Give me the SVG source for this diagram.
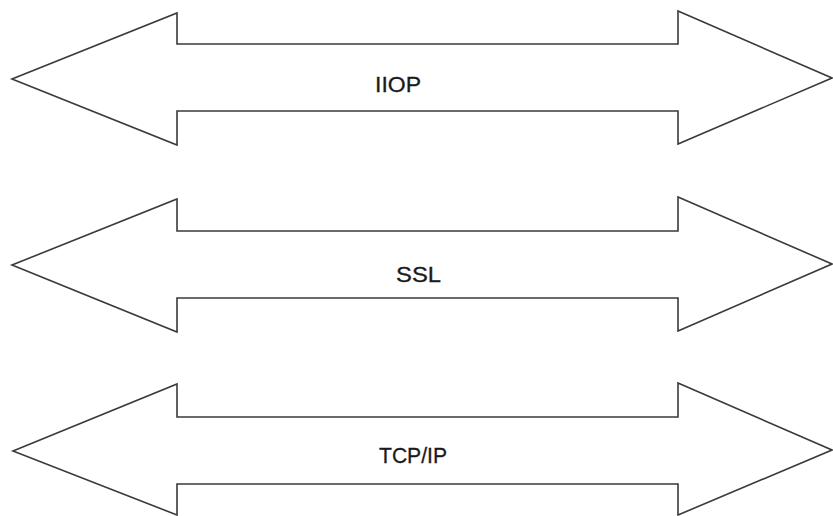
<svg xmlns="http://www.w3.org/2000/svg" width="833" height="516" viewBox="0 0 833 516">
<style>
.arrow{fill:#fff;stroke:#3a3a3a;stroke-width:1.6;stroke-linejoin:miter}
.lbl{font-family:"Liberation Sans",Arial,sans-serif;font-size:22px;fill:#1a1a1a;stroke:#1a1a1a;stroke-width:0.3}
</style>
<rect width="833" height="516" fill="#fff"/>
<g id="iiop">
<polygon class="arrow" points="12,79 177,13 177,44 678,44 678,11 832,78 678,144 678,111 177,111 177,145"/>
<text class="lbl" x="375" y="92" textLength="46" lengthAdjust="spacingAndGlyphs">IIOP</text>
</g>
<g id="ssl">
<polygon class="arrow" points="12,265 177,199 177,231 678,231 678,197 832,264 678,331 678,298 177,298 177,332"/>
<text class="lbl" x="396" y="282" textLength="45" lengthAdjust="spacingAndGlyphs">SSL</text>
</g>
<g id="tcpip">
<polygon class="arrow" points="13,451 177,384 177,417 678,417 678,383 832,450 678,515 678,484 177,484 177,515"/>
<text class="lbl" x="379" y="463" textLength="68" lengthAdjust="spacingAndGlyphs">TCP/IP</text>
</g>
<g id="connectors"></g>
</svg>
